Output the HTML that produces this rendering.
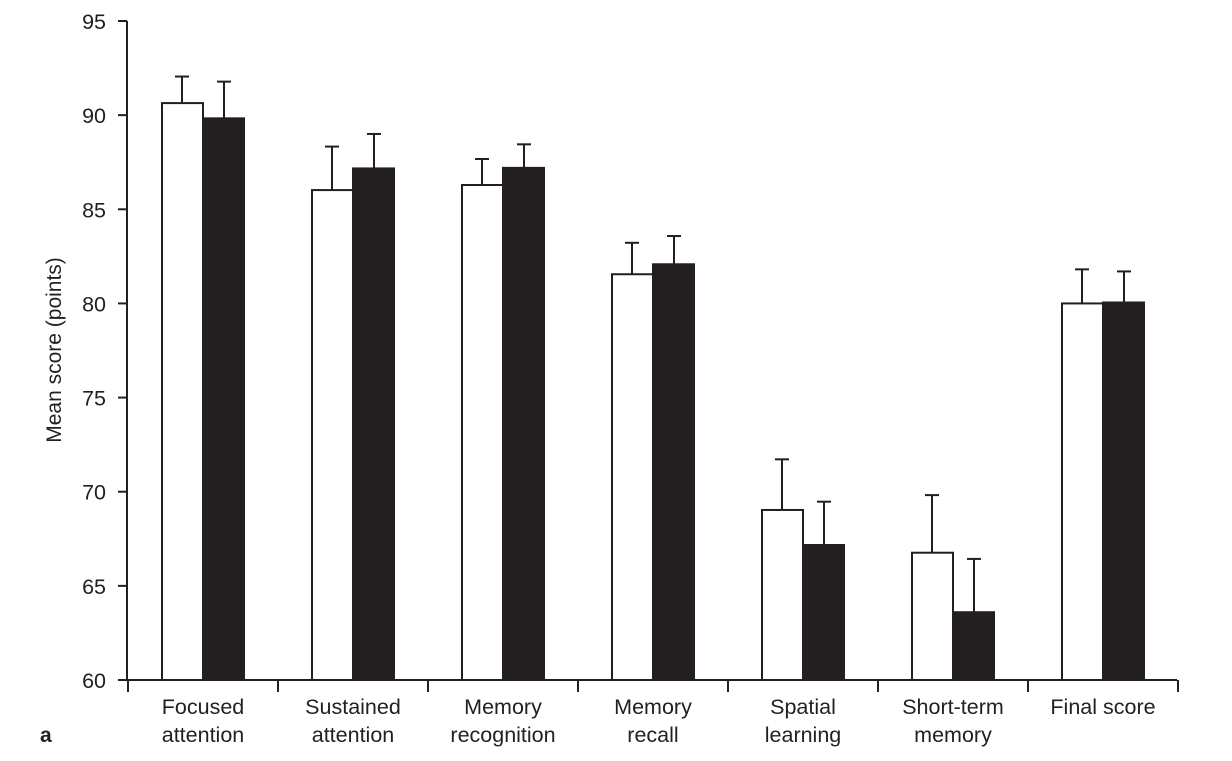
<!DOCTYPE html>
<html><head><meta charset="utf-8"><style>
body{margin:0;background:#fff;}
svg text{font-family:"Liberation Sans",sans-serif;fill:#231f20;}
</style></head><body>
<svg id="chart" width="1232" height="756" viewBox="0 0 1232 756" xmlns="http://www.w3.org/2000/svg">
<g id="axes"></g><g id="bars"></g>
<text x="0" y="0" font-size="21" text-anchor="middle" transform="translate(61,350) rotate(-90)">Mean score (points)</text>
<text x="40" y="742" font-size="21" font-weight="bold">a</text>
</svg>
<script>
const categories=[["Focused","attention"],["Sustained","attention"],["Memory","recognition"],["Memory","recall"],["Spatial","learning"],["Short-term","memory"],["Final score"]];
const whiteValues=[90.64,86.02,86.29,81.55,69.03,66.76,80.0];
const whiteErrors=[1.41,2.31,1.38,1.67,2.69,3.06,1.81];
const blackValues=[89.83,87.17,87.2,82.08,67.17,63.6,80.05];
const blackErrors=[1.95,1.83,1.25,1.5,2.3,2.83,1.65];
const yTicks=[60,65,70,75,80,85,90,95];
const NS="http://www.w3.org/2000/svg";
const y0=680,y1=21,vmin=60,vmax=95,x0=127,step=150,first=203,bw=42;
const yS=v=>y0-(v-vmin)*(y0-y1)/(vmax-vmin);
const xS=i=>first+i*step;
function mk(t,a,p){const e=document.createElementNS(NS,t);for(const k in a)e.setAttribute(k,a[k]);p.appendChild(e);return e;}
const ax=document.getElementById('axes'),bg=document.getElementById('bars');
const st={stroke:'#231f20','stroke-width':2};
let l=mk('line',Object.assign({x1:x0,y1:y1,x2:x0,y2:y0+1},st),ax);


l=mk('line',Object.assign({x1:x0,y1:y0,x2:x0+categories.length*step,y2:y0},st),ax);


yTicks.forEach(v=>{
 const t=mk('line',Object.assign({x1:x0-9,y1:yS(v),x2:x0,y2:yS(v)},st),ax);
 
 
 const tx=mk('text',{x:106,y:yS(v)+8,'font-size':21.5,'text-anchor':'end'},ax);tx.textContent=v;
 
 
});
for(let i=0;i<=categories.length;i++){
 const x=x0+i*step+1;
 const t=mk('line',Object.assign({x1:x,y1:y0,x2:x,y2:y0+12},st),ax);
 
 
}
categories.forEach((c,i)=>{
 c.forEach((ln,j)=>{
  const tx=mk('text',{x:xS(i),y:714+j*28,'font-size':21.5,'text-anchor':'middle'},ax);tx.textContent=ln;
  
  
 });
 [[whiteValues,whiteErrors,'#fff',-bw,'white'],[blackValues,blackErrors,'#231f20',0,'black']].forEach(([vals,errs,fill,off,nm])=>{
  const cx=xS(i)+off+bw/2, top=yS(vals[i]), et=yS(vals[i]+errs[i]);
  const eb=mk('line',Object.assign({x1:cx,y1:top,x2:cx,y2:et},st),bg);
  
  
  const cp=mk('line',Object.assign({x1:cx-7,y1:et,x2:cx+7,y2:et},st),bg);
  
  
  const r=mk('rect',{x:xS(i)+off+(nm=='white'?1:0),y:top,width:bw-1,height:y0-top,fill:fill,stroke:'#231f20','stroke-width':2},bg);
  
  
 });
});
</script>
</body></html>
